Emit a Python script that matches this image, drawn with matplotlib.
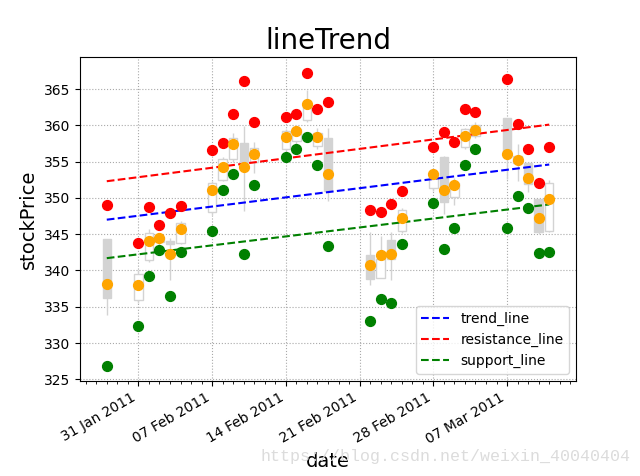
import matplotlib
matplotlib.use("Agg")
import matplotlib.pyplot as plt
import matplotlib.dates as mdates
import numpy as np
import pandas as pd

dates = ["2011-01-28", "2011-01-31", "2011-02-01", "2011-02-02", "2011-02-03", "2011-02-04",
         "2011-02-07", "2011-02-08", "2011-02-09", "2011-02-10", "2011-02-11",
         "2011-02-14", "2011-02-15", "2011-02-16", "2011-02-17", "2011-02-18",
         "2011-02-22", "2011-02-23", "2011-02-24", "2011-02-25",
         "2011-02-28", "2011-03-01", "2011-03-02", "2011-03-03", "2011-03-04",
         "2011-03-07", "2011-03-08", "2011-03-09", "2011-03-10", "2011-03-11"]

# candlestick values
c_open  = [344.4, 336.0, 341.4, 344.6, 344.1, 343.8, 348.0, 352.4, 355.3, 357.5, 354.9,
           356.8, 357.8, 360.7, 357.1, 358.2, 342.2, 339.0, 344.2, 345.4,
           351.3, 355.7, 350.1, 357.05, 358.5, 361.0, 355.8, 354.8, 349.8, 345.5]
c_close = [336.2, 339.5, 345.2, 343.9, 343.7, 346.6, 352.0, 355.3, 358.2, 354.9, 356.9,
           359.2, 359.5, 362.9, 359.0, 351.0, 338.8, 341.6, 341.6, 348.3,
           353.5, 349.4, 352.1, 359.5, 360.1, 356.1, 354.8, 351.9, 345.3, 352.0]
c_high  = [344.4, 340.0, 345.7, 345.0, 344.5, 346.8, 352.3, 355.6, 359.0, 359.9, 357.7,
           359.5, 360.0, 364.9, 359.7, 359.7, 345.3, 344.8, 345.3, 348.6,
           353.8, 355.8, 352.8, 359.7, 360.4, 361.0, 357.4, 354.9, 349.9, 352.4]
c_low   = [333.9, 335.5, 341.2, 343.5, 338.7, 343.6, 347.6, 352.3, 355.0, 348.2, 353.5,
           356.5, 357.0, 360.4, 356.8, 349.6, 338.0, 338.9, 338.7, 345.2,
           351.0, 347.8, 349.0, 356.8, 358.3, 352.6, 352.3, 350.8, 345.0, 345.3]

# scatter points
red_pts    = [349.0, 343.8, 348.7, 346.3, 347.9, 348.9, 356.55, 357.6, 361.5, 366.1, 360.4,
              361.2, 361.6, 367.2, 362.2, 363.2, 348.3, 348.0, 349.1, 350.9,
              357.05, 359.1, 357.7, 362.3, 361.8, 366.4, 360.25, 356.8, 352.0, 357.05]
orange_pts = [338.15, 338.0, 344.0, 344.5, 342.3, 345.7, 351.1, 354.3, 357.4, 354.2, 356.1,
              358.4, 359.2, 362.9, 358.4, 353.3, 340.8, 342.2, 342.3, 347.2,
              353.3, 351.1, 351.8, 358.5, 359.4, 356.1, 355.2, 352.7, 347.2, 349.8]
green_pts  = [326.9, 332.4, 339.3, 342.8, 336.5, 342.6, 345.4, 351.1, 353.3, 342.3, 351.8,
              355.7, 356.8, 358.4, 354.6, 343.4, 333.1, 336.1, 335.5, 343.7,
              349.3, 343.0, 345.8, 354.6, 356.8, 345.8, 350.2, 348.6, 342.4, 342.5]

# trend lines (start / end)
line_dates = ["2011-01-28", "2011-03-11"]
trend_line = [347.0, 354.6]
resistance_line = [352.3, 360.1]
support_line = [341.7, 349.1]

d = pd.to_datetime(dates)
ld = pd.to_datetime(line_dates)
o = np.array(c_open); c = np.array(c_close)

fig, ax = plt.subplots(figsize=(6.4, 4.76), dpi=100)

ax.vlines(d, c_low, c_high, color="lightgray", linewidth=1, zorder=1)
up = c >= o
face = np.where(up, "white", "lightgray")
ax.bar(d, c - o, bottom=o, width=0.8, color=face, edgecolor="lightgray",
       linewidth=1, zorder=2)

ax.plot(ld, trend_line, "b--", label="trend_line", zorder=3)
ax.plot(ld, resistance_line, "r--", label="resistance_line", zorder=3)
ax.plot(ld, support_line, "g--", label="support_line", zorder=3)

ax.scatter(d, red_pts, s=50, color="red", zorder=4)
ax.scatter(d, orange_pts, s=50, color="orange", zorder=4)
ax.scatter(d, green_pts, s=50, color="green", zorder=4)

ax.xaxis.set_major_locator(mdates.WeekdayLocator(byweekday=mdates.MONDAY))
ax.xaxis.set_minor_locator(mdates.DayLocator())
ax.xaxis.set_major_formatter(mdates.DateFormatter("%d %b %Y"))
ax.set_xlim(pd.Timestamp("2011-01-25 11:00"), pd.Timestamp("2011-03-13 13:00"))
ax.set_ylim(324.8, 369.4)
ax.set_yticks([325, 330, 335, 340, 345, 350, 355, 360, 365])
ax.grid(True, linestyle=":", color="darkgray")
ax.set_axisbelow(True)

ax.set_title("lineTrend", fontsize=20)
ax.set_xlabel("date", fontsize=14)
ax.set_ylabel("stockPrice", fontsize=14)
ax.legend(loc="lower right")
fig.autofmt_xdate()

fig.text(630/640, 1 - 457/476, "https://blog.csdn.net/weixin_40040404",
         ha="right", va="center", fontsize=12, family="Liberation Mono",
         color="#dcdcdc", zorder=10)

fig.savefig("out.png", dpi=100)
